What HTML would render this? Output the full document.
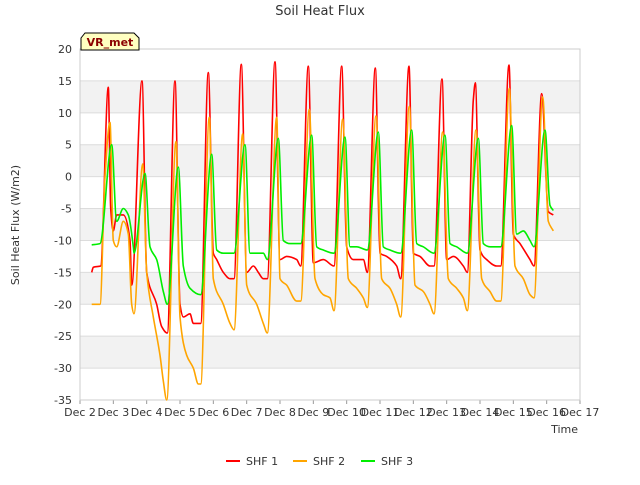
<!DOCTYPE html>
<html><head><meta charset="utf-8"><style>
body{margin:0;background:#fff;font-family:"Liberation Sans",sans-serif}
</style></head><body>
<svg id="chart" width="640" height="480" xmlns="http://www.w3.org/2000/svg" font-family="DejaVu Sans, Liberation Sans, sans-serif">
<rect width="640" height="480" fill="#fff"/>
<text x="320" y="15" text-anchor="middle" font-size="13" fill="#333">Soil Heat Flux</text>
<g id="plot"></g>
<text transform="translate(19,225) rotate(-90)" text-anchor="middle" font-size="11" fill="#333">Soil Heat Flux (W/m2)</text>
<text x="578" y="433" text-anchor="end" font-size="11" fill="#333">Time</text>
<g>
<path d="M81,50 L81,38 L85,33 L134,33 L139,38 L139,50 Z" fill="#ffffc0" stroke="#000" stroke-width="1"/>
<text x="110" y="46" text-anchor="middle" font-size="11" font-weight="bold" fill="#8b0000">VR_met</text>
</g>
<g font-size="11" fill="#333">
<g><line x1="226" y1="461" x2="240" y2="461" stroke="#ff0000" stroke-width="2"/><text x="246" y="465">SHF 1</text></g>
<g><line x1="293" y1="461" x2="307" y2="461" stroke="#ffa500" stroke-width="2"/><text x="313" y="465">SHF 2</text></g>
<g><line x1="361" y1="461" x2="375" y2="461" stroke="#00ee00" stroke-width="2"/><text x="381" y="465">SHF 3</text></g>
</g>
</svg>
<script>
const xTickLabels=["Dec 2","Dec 3","Dec 4","Dec 5","Dec 6","Dec 7","Dec 8","Dec 9","Dec 10","Dec 11","Dec 12","Dec 13","Dec 14","Dec 15","Dec 16","Dec 17"];
const yTicks=[-35,-30,-25,-20,-15,-10,-5,0,5,10,15,20];
const shf1Times=[2.35,2.4,2.62,2.85,2.92,3.0,3.1,3.3,3.5,3.55,3.86,4.0,4.3,4.45,4.62,4.85,5.0,5.1,5.3,5.4,5.62,5.85,6.0,6.1,6.3,6.5,6.62,6.84,7.0,7.2,7.35,7.5,7.62,7.85,8.0,8.2,8.5,8.62,8.85,9.0,9.3,9.62,9.85,10.0,10.2,10.5,10.62,10.86,11.0,11.2,11.5,11.62,11.87,12.0,12.2,12.5,12.62,12.86,13.0,13.2,13.5,13.62,13.8,13.86,14.0,14.2,14.5,14.62,14.87,15.0,15.2,15.5,15.62,15.85,16.05,16.2];
const shf1Values=[-15,-14.2,-14,14,-5,-8.5,-6,-6,-10,-17,15,-15,-20,-23.5,-24.5,15,-20,-22,-21.5,-23,-23,16.3,-12,-13,-15,-16,-16,17.6,-15,-14,-15,-16,-16,18,-13,-12.5,-13,-14,17.3,-13.5,-13,-14,17.3,-11,-13,-13,-15,17,-12,-12.5,-14,-16,17.3,-12,-12.5,-14,-14,15.3,-13,-12.5,-14,-15,12,14.7,-11.5,-13,-14,-14,17.5,-9,-10.5,-13,-14,13,-5.5,-6];
const shf2Times=[2.35,2.6,2.75,2.9,3.0,3.1,3.3,3.45,3.55,3.62,3.88,4.0,4.2,4.4,4.5,4.6,4.88,5.0,5.2,5.4,5.55,5.62,5.88,6.0,6.3,6.5,6.62,6.88,7.0,7.3,7.5,7.62,7.9,8.0,8.2,8.5,8.62,8.88,9.05,9.3,9.5,9.62,9.88,10.05,10.3,10.5,10.62,10.88,11.05,11.3,11.5,11.62,11.88,12.05,12.3,12.5,12.62,12.88,13.05,13.3,13.5,13.62,13.88,14.05,14.3,14.5,14.62,14.88,15.05,15.3,15.5,15.62,15.88,16.05,16.2];
const shf2Values=[-20,-20,0,8.5,-10,-11,-7,-9,-20,-21.5,2,-15,-22,-28,-32,-35,5.5,-22,-28,-30,-32.5,-32.5,9.3,-16,-20,-23,-24,6.7,-17,-20,-23,-24.5,9.3,-16,-17,-19.5,-19.5,10.5,-16,-18.5,-19,-21,9,-16,-17.5,-19,-20.5,9.5,-16,-17.5,-20,-22,11,-17,-18,-20,-21.5,7,-16,-17.5,-19,-21,7.3,-16,-18,-19.5,-19.5,13.8,-14,-16,-18.5,-19,12.5,-7,-8.5];
const shf3Times=[2.35,2.6,2.95,3.1,3.3,3.45,3.6,3.62,3.95,4.1,4.3,4.5,4.62,4.95,5.1,5.3,5.62,5.95,6.1,6.3,6.62,6.95,7.1,7.5,7.62,7.95,8.1,8.3,8.62,8.95,9.1,9.3,9.62,9.95,10.1,10.3,10.62,10.95,11.1,11.3,11.62,11.95,12.1,12.3,12.62,12.95,13.1,13.3,13.62,13.95,14.1,14.3,14.62,14.95,15.1,15.3,15.5,15.62,15.95,16.1,16.2];
const shf3Values=[-10.7,-10.5,5,-7,-5,-6,-11,-12,0.5,-11,-13,-18,-20,1.5,-14,-17.5,-18.5,3.5,-11.5,-12,-12,5,-12,-12,-13,6,-10,-10.5,-10.5,6.5,-11,-11.5,-12,6.2,-11,-11,-11.5,7,-11,-11.5,-12,7.3,-10.5,-11,-12,6.5,-10.5,-11,-12,6,-10.5,-11,-11,8,-9,-8.5,-10,-11,7.3,-4.5,-5.3];
const X0=80,X1=580,Y0=49,Y1=400;
const xs=d=>X0+(d-2)*(X1-X0)/15;
const ys=v=>Y0+(20-v)*(Y1-Y0)/55;
const NS="http://www.w3.org/2000/svg";
const plot=document.getElementById('plot');
function mk(tag,attrs,parent){const e=document.createElementNS(NS,tag);for(const k in attrs)e.setAttribute(k,attrs[k]);(parent||plot).appendChild(e);return e;}
mk('rect',{x:X0,y:Y0,width:X1-X0,height:Y1-Y0,fill:'#fff'});
for(let i=0;i<yTicks.length-1;i++){
  if(i%2===1){const r=mk('rect',{x:X0,y:ys(yTicks[i+1]),width:X1-X0,height:ys(yTicks[i])-ys(yTicks[i+1]),fill:'#f2f2f2'});
  
  }
}
yTicks.forEach(v=>{
  const l=mk('line',{x1:X0,x2:X1,y1:ys(v),y2:ys(v),stroke:'#dcdcdc','stroke-width':1});
  
  
  const t=mk('text',{x:X0-8,y:ys(v)+4,'text-anchor':'end','font-size':11,fill:'#333'});
  t.textContent=v;
  
  
});
xTickLabels.forEach((s,i)=>{
  const x=xs(2+i);
  const l=mk('line',{x1:x,x2:x,y1:Y1,y2:Y1+4,stroke:'#999'});
  
  
  const t=mk('text',{x:x,y:Y1+16,'text-anchor':'middle','font-size':11,fill:'#333'});
  t.textContent=s;
  
  
});
const frame=mk('rect',{x:X0,y:Y0,width:X1-X0,height:Y1-Y0,fill:'none',stroke:'#ccc'});


function monotonePath(px,py){
  const n=px.length,dx=[],m=[],t=new Array(n);
  for(let i=0;i<n-1;i++){dx[i]=px[i+1]-px[i];m[i]=(py[i+1]-py[i])/dx[i];}
  t[0]=m[0];t[n-1]=m[n-2];
  for(let i=1;i<n-1;i++){t[i]=(m[i-1]*m[i]<=0)?0:(3*(dx[i-1]+dx[i]))/((2*dx[i]+dx[i-1])/m[i-1]+(dx[i]+2*dx[i-1])/m[i]);}
  let d='M'+px[0].toFixed(1)+','+py[0].toFixed(1);
  for(let i=0;i<n-1;i++){const h=dx[i]/3;
    d+='C'+(px[i]+h).toFixed(1)+','+(py[i]+t[i]*h).toFixed(1)+' '+(px[i+1]-h).toFixed(1)+','+(py[i+1]-t[i+1]*h).toFixed(1)+' '+px[i+1].toFixed(1)+','+py[i+1].toFixed(1);}
  return d;
}
function series(ts,vs,color,name){
  const d=monotonePath(ts.map(xs),vs.map(ys));
  const p=mk('path',{d:d,fill:'none',stroke:color,'stroke-width':1.6,'stroke-linejoin':'round'});
  
  
}
series(shf1Times,shf1Values,'#ff0000','shf1-line');
series(shf2Times,shf2Values,'#ffa500','shf2-line');
series(shf3Times,shf3Values,'#00ee00','shf3-line');
</script>
</body></html>
